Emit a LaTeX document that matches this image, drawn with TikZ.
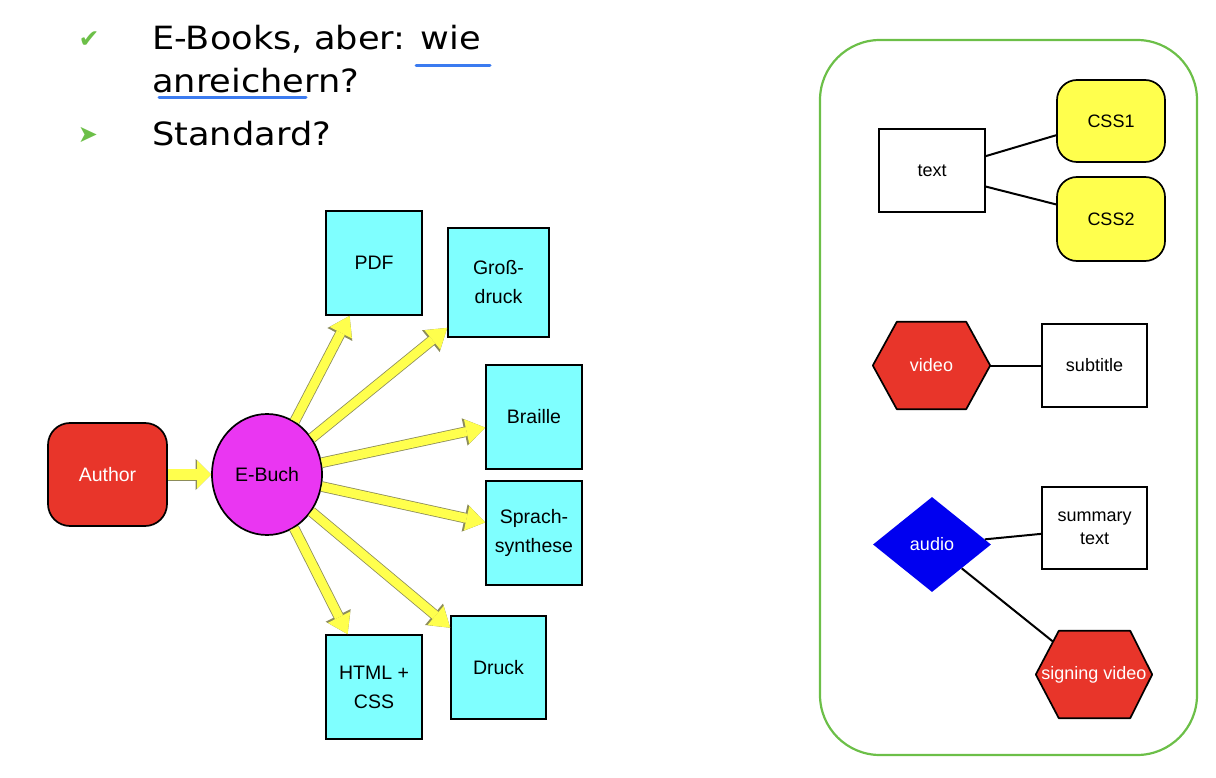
\documentclass[tikz,border=0pt]{standalone}
\usepackage{fontspec}
\setmainfont{Liberation Sans}
\newfontfamily\titlefont[FakeStretch=1.1]{DejaVu Sans}
\newfontfamily\symfont{DejaVu Sans}
\usetikzlibrary{shapes.geometric,arrows.meta,calc,backgrounds}
\definecolor{redA}{HTML}{E8352A}
\definecolor{magA}{HTML}{EA36F2}
\definecolor{cyanA}{HTML}{7FFFFF}
\definecolor{yelA}{HTML}{FFFF4D}
\definecolor{arrY}{HTML}{FFFF4D}
\definecolor{arrO}{HTML}{8C8C5A}
\definecolor{blueA}{HTML}{0000F0}
\definecolor{greenA}{HTML}{6CBF48}
\definecolor{ulblue}{HTML}{3B7BF0}
\begin{document}
\begin{tikzpicture}[x=1pt,y=-1pt,
  bigfont/.style={font=\fontsize{19.5}{29}\selectfont},
  smallfont/.style={font=\fontsize{18}{23}\selectfont},
  outbox/.style={draw=black, line width=1.7pt, fill=cyanA, inner sep=0pt, align=center, bigfont},
  wbox/.style={draw=black, line width=1.7pt, fill=white, inner sep=0pt, align=center, smallfont},
  cssbox/.style={draw=black, line width=1.7pt, fill=yelA, rounded corners=20pt, inner sep=0pt, align=center, smallfont},
  hexnode/.style={draw=none, inner sep=0pt, text=white, smallfont},
  hexa/.style={draw=black, line width=1.7pt, fill=redA, line join=round},
  conn/.style={draw=black, line width=2pt},
  titletext/.style={anchor=base west, inner sep=0pt, font=\titlefont\fontsize{32}{38}\selectfont},
  fat/.style={draw=arrY, line width=9pt, -{Triangle[length=19pt,width=25pt,line width=0pt]},
    preaction={draw=arrO, line width=10.6pt, -{Triangle[length=21pt,width=28pt,line width=0pt]}}}
]
\useasboundingbox (0,0) rectangle (1216,778);

% ---------- title ----------
\node[titletext] (t1) at (152,50) {E-Books, aber: wie};
\node[titletext] (t2) at (152,93) {anreichern?};
\node[titletext] (t3) at (152,146) {Standard?};
\node[inner sep=0pt, text=greenA, font=\symfont\fontsize{25}{25}\selectfont] (b1) at (89,40) {✔};
\node[inner sep=0pt, text=greenA, font=\symfont\fontsize{24}{24}\selectfont] (b2) at (88,135) {➤};
\draw[ulblue, line width=3pt, line cap=round] (416,66) -- (490,66);
\draw[ulblue, line width=3pt, line cap=round] (159,98) -- (306,98);

% ---------- left diagram ----------
\node[draw=black, line width=1.7pt, fill=redA, rounded corners=22pt, minimum width=119pt, minimum height=103pt, text=white, bigfont] (author) at (107.5,474.5) {Author};
\node[ellipse, draw=black, line width=1.7pt, fill=magA, minimum width=110pt, minimum height=121pt, inner sep=0pt, bigfont] (ebuch) at (267,474.5) {E-Buch};

\node[outbox, minimum width=96pt, minimum height=104pt] (pdf) at (374,263) {PDF};
\node[outbox, minimum width=101pt, minimum height=109pt] (gross) at (498.5,282.5) {Groß-\\druck};
\node[outbox, minimum width=96pt, minimum height=104pt] (braille) at (534,417) {Braille};
\node[outbox, minimum width=96pt, minimum height=104pt] (sprach) at (534,533) {Sprach-\\synthese};
\node[outbox, minimum width=96pt, minimum height=104pt] (html) at (374,687) {HTML +\\CSS};
\node[outbox, minimum width=95pt, minimum height=103pt] (druck) at (498.5,667.5) {Druck};

\coordinate (tpdf) at ($(pdf.south west)!.25!(pdf.south east)$);
\coordinate (tgross) at ($(gross.north west)!.91!(gross.south west)$);
\coordinate (tbraille) at ($(braille.north west)!.60!(braille.south west)$);
\coordinate (tsprach) at ($(sprach.north west)!.40!(sprach.south west)$);
\coordinate (tdruck) at ($(druck.north west)!.12!(druck.south west)$);
\coordinate (thtml) at ($(html.north west)!.23!(html.north east)$);

\draw[draw=arrY, line width=10.5pt, -{Triangle[length=14pt,width=28pt,line width=0pt]},
  preaction={draw=arrO, line width=12pt, -{Triangle[length=15.5pt,width=31pt,line width=0pt]}}] (author) -- (ebuch);
\draw[fat] (ebuch) -- (tpdf);
\draw[fat] (ebuch) -- (tgross);
\draw[fat] (ebuch) -- (tbraille);
\draw[fat] (ebuch) -- (tsprach);
\draw[fat] (ebuch) -- (tdruck);
\draw[fat] (ebuch) -- (thtml);

% ---------- right panel ----------
\draw[greenA, line width=2.2pt, rounded corners=60pt] (820,40) rectangle (1197,755);

\node[wbox, minimum width=106pt, minimum height=83pt] (text) at (932,170.5) {text};
\node[cssbox, minimum width=108pt, minimum height=82pt] (css1) at (1111,121) {CSS1};
\node[cssbox, minimum width=108pt, minimum height=84pt] (css2) at (1111,219) {CSS2};
\draw[conn] ($(text.north east)!.33!(text.south east)$) -- ($(css1.north west)!.67!(css1.south west)$);
\draw[conn] ($(text.north east)!.69!(text.south east)$) -- ($(css2.north west)!.33!(css2.south west)$);

\node[hexnode, minimum width=117pt, minimum height=87pt] (video) at (931.5,365.5) {video};
\node[wbox, minimum width=105pt, minimum height=83pt] (subtitle) at (1094.5,365.5) {subtitle};
\draw[conn] (video.east) -- (subtitle.west);

\node[diamond, fill=blueA, minimum width=118pt, minimum height=95pt, inner sep=0pt, text=white, smallfont] (audio) at (932,544.5) {audio};
\node[wbox, minimum width=105pt, minimum height=82pt] (summary) at (1094.5,528) {summary\\text};
\node[hexnode, minimum width=116pt, minimum height=87pt] (sv) at (1094,674.5) {signing video};
\draw[conn] (audio) -- ($(summary.north west)!.57!(summary.south west)$);

\begin{scope}[on background layer]
  \draw[conn] (audio) -- (sv.center);
  \draw[hexa] (video.west) -- ([xshift=24pt]video.north west) -- ([xshift=-24pt]video.north east)
     -- (video.east) -- ([xshift=-24pt]video.south east) -- ([xshift=24pt]video.south west) -- cycle;
  \draw[hexa] (sv.west) -- ([xshift=23pt]sv.north west) -- ([xshift=-22pt]sv.north east)
     -- (sv.east) -- ([xshift=-22pt]sv.south east) -- ([xshift=23pt]sv.south west) -- cycle;
\end{scope}
\end{tikzpicture}
\end{document}
